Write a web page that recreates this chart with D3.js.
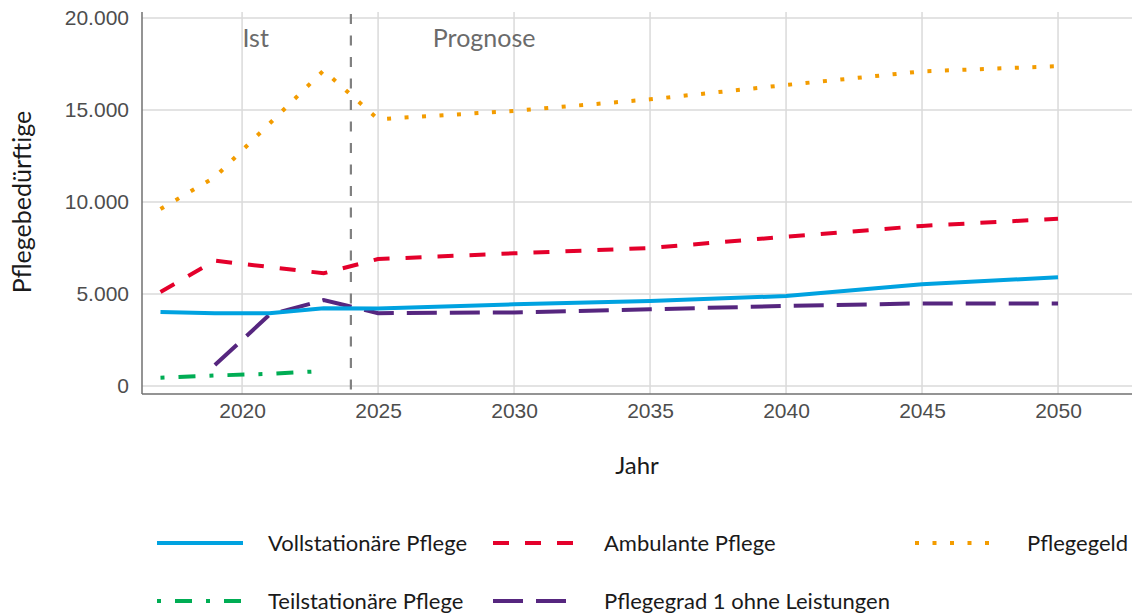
<!DOCTYPE html>
<html lang="de">
<head>
<meta charset="utf-8">
<script src="https://cdn.jsdelivr.net/npm/d3@7"></script>
<style>
	body { margin: 0; background: #fff; }
	svg { display: block; font-family: Lato, 'Open Sans', sans-serif; }
</style>
</head>
<body>
<div class="svg-container"></div>
<script>
const w = 1132;
const h = 614;

// data
const years = [2017, 2019, 2021, 2023, 2025, 2030, 2035, 2040, 2045, 2050];
const vollstationaer = [4020, 3960, 3950, 4220, 4210, 4440, 4620, 4890, 5530, 5910];
const ambulant = [5110, 6810, 6470, 6125, 6900, 7210, 7500, 8115, 8700, 9090];
const pflegegeld = [9620, 11350, 14250, 17150, 14500, 14950, 15580, 16360, 17100, 17380];
const teilstationaer = [450, 570, 660, 815, null, null, null, null, null, null];
const pflegegrad1 = [null, 1140, 3860, 4670, 3960, 4000, 4170, 4350, 4490, 4490];

const seriesNames = [
	'Vollstationäre Pflege',
	'Ambulante Pflege',
	'Pflegegeld',
	'Teilstationäre Pflege',
	'Pflegegrad 1 ohne Leistungen',
];
const seriesValues = [vollstationaer, ambulant, pflegegeld, teilstationaer, pflegegrad1];
const colors = ['#00a2e0', '#e4002b', '#f39c00', '#00ad54', '#56267f'];
const dashes = ['none', '16,16', '4,13.5', '4,14,17,14', '30,13'];

const xTicks = [2020, 2025, 2030, 2035, 2040, 2045, 2050];
const yTicks = [0, 5000, 10000, 15000, 20000];
const splitYear = 2024;
const phaseLabels = [
	{text: 'Ist', year: 2020.5},
	{text: 'Prognose', year: 2028.9},
];

const plotLeft = 142;
const plotRight = 1132;
const plotTop = 12;
const plotBottom = 394;

const x = d3.scaleLinear().domain([2016.32, 2052.72]).range([plotLeft, plotRight]);
const y = d3.scaleLinear().domain([-435, 20326]).range([plotBottom, plotTop]);

const svg = d3
	.select('.svg-container')
	.append('svg')
	.attr('width', w)
	.attr('height', h)
	.attr('viewBox', `0 0 ${w} ${h}`);

// grid
svg
	.append('g')
	.selectAll('line')
	.data(yTicks)
	.enter()
	.append('line')
	.attr('x1', plotLeft)
	.attr('x2', plotRight)
	.attr('y1', d => y(d))
	.attr('y2', d => y(d))
	.attr('stroke', '#dadada')
	.attr('stroke-width', 1.5);

svg
	.append('g')
	.selectAll('line')
	.data(xTicks)
	.enter()
	.append('line')
	.attr('x1', d => x(d))
	.attr('x2', d => x(d))
	.attr('y1', plotTop)
	.attr('y2', plotBottom)
	.attr('stroke', '#dadada')
	.attr('stroke-width', 1.5);

// axes
const yAxis = d3
	.axisLeft(y)
	.tickValues(yTicks)
	.tickSize(0)
	.tickPadding(13)
	.tickFormat(d => d3.format(',')(d).replace(/,/g, '.'));

const xAxis = d3.axisBottom(x).tickValues(xTicks).tickSize(0).tickPadding(9).tickFormat(d3.format('d'));

svg
	.append('g')
	.attr('transform', `translate(${plotLeft}, 0)`)
	.call(yAxis)
	.call(g => g.select('.domain').remove())
	.selectAll('text')
	.attr('fill', '#4d4d4d')
	.style('font-size', '21px');

svg
	.append('g')
	.attr('transform', `translate(0, ${plotBottom})`)
	.call(xAxis)
	.call(g => g.select('.domain').remove())
	.selectAll('text')
	.attr('fill', '#4d4d4d')
	.style('font-size', '21px');

svg
	.append('line')
	.attr('x1', plotLeft)
	.attr('x2', plotLeft)
	.attr('y1', plotTop)
	.attr('y2', plotBottom)
	.attr('stroke', '#707070')
	.attr('stroke-width', 1.5);

svg
	.append('line')
	.attr('x1', plotLeft)
	.attr('x2', plotRight)
	.attr('y1', plotBottom)
	.attr('y2', plotBottom)
	.attr('stroke', '#707070')
	.attr('stroke-width', 1.5);

// split Ist / Prognose
svg
	.append('line')
	.attr('x1', x(splitYear))
	.attr('x2', x(splitYear))
	.attr('y1', plotTop + 2)
	.attr('y2', plotBottom)
	.attr('stroke', '#808080')
	.attr('stroke-width', 2.2)
	.attr('stroke-dasharray', '10,11.5');

svg
	.selectAll('.phase')
	.data(phaseLabels)
	.enter()
	.append('text')
	.attr('class', 'phase')
	.attr('x', d => x(d.year))
	.attr('y', 47)
	.attr('text-anchor', 'middle')
	.attr('fill', '#6b6b6b')
	.style('font-size', '25px')
	.text(d => d.text);

// lines
const line = d3
	.line()
	.defined(d => d.v !== null)
	.x(d => x(d.year))
	.y(d => y(d.v));

const drawOrder = [4, 3, 0, 1, 2];
drawOrder.forEach(i => {
	const pts = years.map((year, j) => ({year, v: seriesValues[i][j]}));
	svg
		.append('path')
		.datum(pts)
		.attr('d', line)
		.attr('fill', 'none')
		.attr('stroke', colors[i])
		.attr('stroke-width', 4)
		.attr('stroke-dasharray', dashes[i]);
});

// axis titles
svg
	.append('text')
	.attr('x', 637)
	.attr('y', 474)
	.attr('text-anchor', 'middle')
	.attr('fill', '#1a1a1a')
	.style('font-size', '24px')
	.text('Jahr');

svg
	.append('text')
	.attr('transform', `translate(31, 202) rotate(-90)`)
	.attr('text-anchor', 'middle')
	.attr('fill', '#1a1a1a')
	.style('font-size', '25px')
	.text('Pflegebedürftige');

// legend
const legendItems = [
	{i: 0, kx: 157, ky: 543},
	{i: 1, kx: 493, ky: 543},
	{i: 2, kx: 915, ky: 543},
	{i: 3, kx: 157, ky: 601},
	{i: 4, kx: 493, ky: 601},
];
const keyLen = [86, 86, 74, 86, 86];

const legend = svg.append('g').attr('id', 'legend');

legendItems.forEach(item => {
	legend
		.append('line')
		.attr('x1', item.kx)
		.attr('x2', item.kx + keyLen[item.i])
		.attr('y1', item.ky)
		.attr('y2', item.ky)
		.attr('stroke', colors[item.i])
		.attr('stroke-width', 4)
		.attr('stroke-dasharray', dashes[item.i]);

	legend
		.append('text')
		.attr('x', item.i === 2 ? 1027 : item.kx + 111)
		.attr('y', item.ky)
		.attr('dy', '0.36em')
		.attr('fill', '#1a1a1a')
		.style('font-size', '22px')
		.text(seriesNames[item.i]);
});
</script>
</body>
</html>
